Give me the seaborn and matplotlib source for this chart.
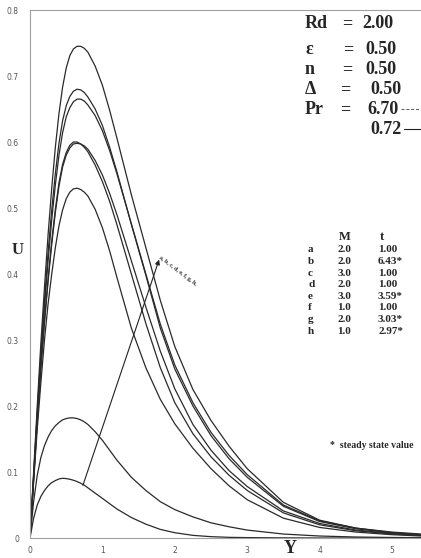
import numpy as np
import pandas as pd
import matplotlib
matplotlib.use('Agg')
import matplotlib.pyplot as plt
import seaborn as sns

# valores
y_pts = [0, 0.05, 0.1, 0.15, 0.2, 0.25, 0.3, 0.35, 0.4, 0.45, 0.5, 0.55, 0.6, 0.65, 0.7, 0.75,
         0.8, 0.9, 1.0, 1.1, 1.2, 1.4, 1.6, 1.8, 2.0, 2.25, 2.5, 2.75, 3.0, 3.5, 4.0, 4.5, 5.0, 5.4]

u_1 = [0, 0.10, 0.20, 0.295, 0.38, 0.46, 0.53, 0.592, 0.643, 0.683, 0.712, 0.731, 0.741, 0.745,
       0.745, 0.742, 0.736, 0.715, 0.686, 0.648, 0.606, 0.52, 0.44, 0.36, 0.29, 0.225, 0.178,
       0.139, 0.105, 0.054, 0.027, 0.015, 0.009, 0.006]
u_2 = [0, 0.095, 0.19, 0.28, 0.36, 0.433, 0.497, 0.552, 0.598, 0.632, 0.655, 0.669, 0.677, 0.68,
       0.679, 0.675, 0.668, 0.65, 0.625, 0.592, 0.555, 0.475, 0.398, 0.318, 0.256, 0.2, 0.155,
       0.12, 0.092, 0.048, 0.025, 0.014, 0.008, 0.005]
u_3 = [0, 0.093, 0.185, 0.272, 0.35, 0.42, 0.482, 0.535, 0.58, 0.614, 0.638, 0.652, 0.661, 0.665,
       0.665, 0.662, 0.656, 0.64, 0.617, 0.587, 0.552, 0.476, 0.40, 0.324, 0.262, 0.205, 0.16,
       0.125, 0.096, 0.05, 0.026, 0.015, 0.008, 0.005]
u_4 = [0, 0.09, 0.178, 0.26, 0.33, 0.393, 0.45, 0.498, 0.538, 0.566, 0.584, 0.595, 0.6, 0.6,
       0.597, 0.592, 0.585, 0.565, 0.54, 0.51, 0.475, 0.4, 0.325, 0.258, 0.205, 0.158, 0.123,
       0.095, 0.072, 0.038, 0.02, 0.011, 0.006, 0.004]
u_5 = [0, 0.088, 0.175, 0.256, 0.326, 0.389, 0.445, 0.493, 0.533, 0.562, 0.58, 0.591, 0.597, 0.598,
       0.597, 0.594, 0.589, 0.572, 0.55, 0.522, 0.49, 0.42, 0.35, 0.283, 0.226, 0.172, 0.133,
       0.102, 0.078, 0.041, 0.022, 0.012, 0.007, 0.004]
u_6 = [0, 0.085, 0.165, 0.235, 0.30, 0.355, 0.40, 0.44, 0.473, 0.497, 0.514, 0.524, 0.529, 0.53,
       0.528, 0.524, 0.518, 0.498, 0.47, 0.435, 0.395, 0.318, 0.258, 0.21, 0.173, 0.136, 0.105,
       0.079, 0.058, 0.03, 0.016, 0.009, 0.005, 0.003]
u_7 = [0, 0.055, 0.095, 0.122, 0.14, 0.153, 0.163, 0.17, 0.175, 0.179, 0.181, 0.182, 0.182, 0.181,
       0.179, 0.176, 0.172, 0.161, 0.148, 0.133, 0.118, 0.092, 0.072, 0.055, 0.043, 0.032, 0.023,
       0.017, 0.012, 0.006, 0.003, 0.0015, 0.0008, 0.0005]
u_8 = [0, 0.03, 0.05, 0.063, 0.072, 0.079, 0.084, 0.087, 0.0895, 0.0905, 0.09, 0.089, 0.0875, 0.0855,
       0.083, 0.08, 0.076, 0.068, 0.06, 0.052, 0.044, 0.031, 0.021, 0.013, 0.008, 0.004, 0.002,
       0.001, 0.0006, 0.0002, 0, 0, 0, 0]

params_nomes = ['Rd', 'ε', 'n', 'Δ', 'Pr']
params_valores = ['2.00', '0.50', '0.50', '0.50', '6.70']
pr_2 = '0.72'

letras = ['a', 'b', 'c', 'd', 'e', 'f', 'g', 'h']
col_M = ['2.0', '2.0', '3.0', '2.0', '3.0', '1.0', '2.0', '1.0']
col_t = ['1.00', '6.43*', '1.00', '1.00', '3.59*', '1.00', '3.03*', '2.97*']

x_ticks = [0, 1, 2, 3, 4, 5]
y_ticks = [0, 0.1, 0.2, 0.3, 0.4, 0.5, 0.6, 0.7, 0.8]

curvas = [u_1, u_2, u_3, u_4, u_5, u_6, u_7, u_8]
df = pd.concat([pd.DataFrame({'Y': y_pts, 'U': u, 'curva': i}) for i, u in enumerate(curvas)])

sns.set_style('white')
fig = plt.figure(figsize=(4.21, 5.58), dpi=100)
ax = fig.add_axes([30 / 421, 20 / 558, 1 - 30 / 421, 528 / 558])

sns.lineplot(data=df, x='Y', y='U', hue='curva', palette=['#2a2a2a'] * 8, estimator=None,
             legend=False, linewidth=0.9, ax=ax)

ax.set_xlim(0, 5.4)
ax.set_ylim(0, 0.8)
ax.set_xticks(x_ticks)
ax.set_xticklabels([str(v) for v in x_ticks])
ax.set_yticks(y_ticks)
ax.set_yticklabels(['0'] + [f'{v:g}' for v in y_ticks[1:]])
ax.tick_params(axis='x', length=3, width=0.6, color='#999999', pad=3, labelsize=5.5, labelcolor='#555555')
ax.tick_params(axis='y', length=0, pad=8, labelsize=5.5, labelcolor='#555555')
ax.set_xlabel('')
ax.set_ylabel('')
for s in ['left', 'bottom', 'top']:
    ax.spines[s].set_color('#a0a0a0')
    ax.spines[s].set_linewidth(0.8)
ax.spines['right'].set_visible(False)

serif = dict(family='Liberation Serif', weight='bold')

# rotulos dos eixos
ax.text(-0.166, 0.436, 'U', fontsize=12, ha='center', va='center', clip_on=False, **serif)
ax.text(3.59, -0.016, 'Y', fontsize=13, ha='center', va='center', clip_on=False, **serif)

# parametros no canto superior direito
px2x = lambda px: (px - 30) / 72.4
py2u = lambda py: (538 - py) / 660
linhas_y = [24, 50, 70, 90, 110]
igual_x = [347, 348, 347, 345, 345]
val_x = [362, 365, 365, 370, 367]
for nome, val, py, ix, vx in zip(params_nomes, params_valores, linhas_y, igual_x, val_x):
    ax.text(px2x(305), py2u(py), nome, fontsize=13, va='center', ha='left', **serif)
    ax.text(px2x(ix), py2u(py), '=', fontsize=13, va='center', ha='center', **serif)
    ax.text(px2x(vx), py2u(py), val, fontsize=13, va='center', ha='left', **serif)
ax.text(px2x(370), py2u(130), pr_2, fontsize=13, va='center', ha='left', **serif)
ax.plot([px2x(401), 5.4], [py2u(109), py2u(109)], color='#555555', lw=0.7, ls=(0, (3, 2)))
ax.plot([px2x(404), 5.4], [py2u(129), py2u(129)], color='#222222', lw=0.8)

# tabela M e t
ax.text(px2x(345), py2u(237), 'M', fontsize=9, ha='center', va='center', **serif)
ax.text(px2x(380), py2u(237), 't', fontsize=9, ha='left', va='center', **serif)
for i, (l, m, t) in enumerate(zip(letras, col_M, col_t)):
    py = 250 + i * 11.6
    ax.text(px2x(308), py2u(py), l, fontsize=8, ha='left', va='center', **serif)
    ax.text(px2x(344), py2u(py), m, fontsize=8, ha='center', va='center', **serif)
    ax.text(px2x(378), py2u(py), t, fontsize=8, ha='left', va='center', **serif)

ax.text(px2x(330), py2u(446), '*  steady state value', fontsize=7, ha='left', va='center', **serif)

# seta
ax.annotate('', xy=(px2x(160), py2u(257)), xytext=(px2x(82), py2u(488)),
            arrowprops=dict(arrowstyle='-|>', color='#222222', lw=0.8, mutation_scale=7))
ax.text(px2x(178), py2u(271), 'a, b, c, d, e, f, g, h,', fontsize=4.2, rotation=-37,
        ha='center', va='center', rotation_mode='anchor', **serif)

fig.savefig('out.png', dpi=100)
